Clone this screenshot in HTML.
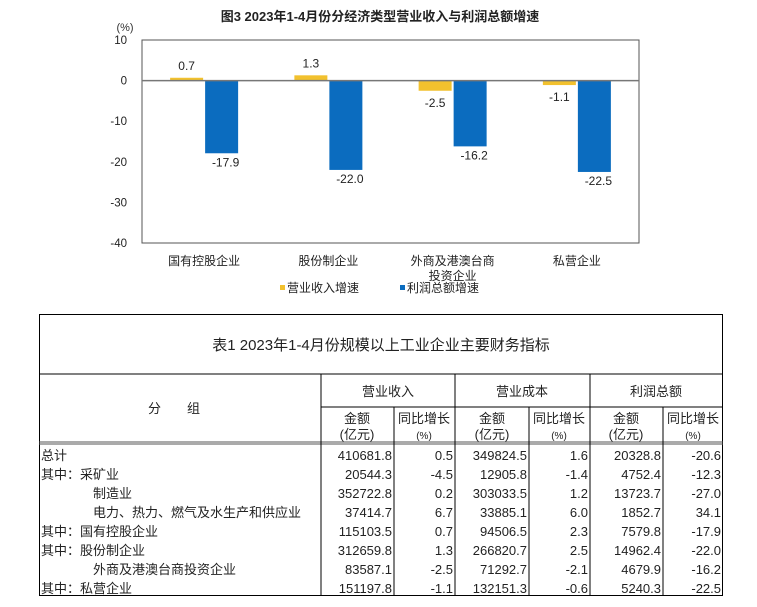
<!DOCTYPE html>
<html><head><meta charset="utf-8">
<style>
body{margin:0;background:#fff;width:757px;height:607px;overflow:hidden;font-family:"Liberation Sans","Noto Sans CJK SC",sans-serif;}
svg{position:absolute;left:0;top:0}
.tbl{position:absolute;left:39px;top:314px;width:684px;height:282px;border:1px solid #000;box-sizing:border-box}
</style></head><body>
<svg width="757" height="300">
<text x="380" y="21" text-anchor="middle" font-size="13" font-weight="bold" fill="#222">图3  2023年1-4月份分经济类型营业收入与利润总额增速</text>
<text x="125" y="31" text-anchor="middle" font-size="11" fill="#333">(%)</text>
<rect x="142" y="40" width="497" height="203" fill="none" stroke="#555" stroke-width="1"/>
<g id="ticks"></g>
<g id="bars"></g>
<g id="cats"></g>
<rect x="280" y="285" width="5" height="5" fill="#F2C12E"/>
<text x="287" y="292" font-size="12" fill="#222">营业收入增速</text>
<rect x="400" y="285" width="5" height="5" fill="#0B6CBF"/>
<text x="407" y="292" font-size="12" fill="#222">利润总额增速</text>
</svg>
<script>
const categories=["国有控股企业","股份制企业","外商及港澳台商投资企业","私营企业"];
const revenue=[0.7,1.3,-2.5,-1.1];
const profit=[-17.9,-22.0,-16.2,-22.5];
const yTicks=[10,0,-10,-20,-30,-40];
const NS="http://www.w3.org/2000/svg";
const L=142,R=639,T=40,B=243,yMax=10,yMin=-40;
const y=v=>T+(yMax-v)/(yMax-yMin)*(B-T);
const cw=(R-L)/categories.length;
const xc=i=>L+cw*(i+0.5);
function mk(tag,attrs,parent,txt){const e=document.createElementNS(NS,tag);for(const k in attrs)e.setAttribute(k,attrs[k]);if(txt!=null)e.textContent=txt;parent.appendChild(e);return e;}
const tg=document.getElementById('ticks');
yTicks.forEach(t=>{const e=mk('text',{x:127,y:y(t)+4,'text-anchor':'end','font-size':11.5,fill:'#222'},tg,String(t));

});
const bg=document.getElementById('bars');
const bw=33;
categories.forEach((c,i)=>{
 const cx=xc(i);
 const r=revenue[i],p=profit[i];
 const a=mk('rect',{x:cx-bw-1,y:Math.min(y(r),y(0)),width:bw,height:Math.max(Math.abs(y(r)-y(0)),1),fill:'#F2C12E'},bg);
 
 
 const b=mk('rect',{x:cx+1,y:Math.min(y(p),y(0)),width:bw,height:Math.abs(y(p)-y(0)),fill:'#0B6CBF'},bg);
 
 
 const ly=r>=0?y(r)-8:y(r)+16;
 const la=mk('text',{x:cx-bw/2-1,y:ly,'text-anchor':'middle','font-size':12,fill:'#222'},bg,r.toFixed(1));
 
 
 const lb=mk('text',{x:cx+bw/2+5,y:y(p)+13,'text-anchor':'middle','font-size':12,fill:'#222'},bg,p.toFixed(1));
 
 
});
const zl=mk('line',{x1:L,x2:R,y1:y(0),y2:y(0),stroke:'#777','stroke-width':1.5},bg);


const cg=document.getElementById('cats');
categories.forEach((c,i)=>{
 const lines=c.length>8?[c.slice(0,7),c.slice(7)]:[c];
 lines.forEach((s,j)=>{const e=mk('text',{x:xc(i),y:265+j*15,'text-anchor':'middle','font-size':12,fill:'#222'},cg,s);
 
 });
});
</script>

<div class="tbl">
<svg width="684" height="282" style="position:absolute;left:-1px;top:-1px">
<text x="342" y="36" text-anchor="middle" font-size="15" fill="#222">表1  2023年1-4月份规模以上工业企业主要财务指标</text>
<line x1="0" x2="684" y1="60" y2="60" stroke="#000"/>
<line x1="0" x2="684" y1="128" y2="128" stroke="#555"/>
<line x1="0" x2="684" y1="130" y2="130" stroke="#555"/>
<line x1="282" x2="684" y1="93" y2="93" stroke="#000"/>
<g stroke="#000"><line x1="282" x2="282" y1="60" y2="282"/><line x1="416" x2="416" y1="60" y2="282"/><line x1="551" x2="551" y1="60" y2="282"/>
<line x1="355" x2="355" y1="93" y2="282"/><line x1="490" x2="490" y1="93" y2="282"/><line x1="624" x2="624" y1="93" y2="282"/></g>
<g font-size="13" fill="#222" text-anchor="middle">
<text x="135" y="99">分　　组</text>
<text x="349" y="82">营业收入</text>
<text x="483" y="82">营业成本</text>
<text x="617" y="82">利润总额</text>
<text x="318" y="109">金额</text><text x="318" y="125">(亿元)</text>
<text x="385" y="109">同比增长</text><text x="385" y="125" font-size="10">(%)</text>
<text x="453" y="109">金额</text><text x="453" y="125">(亿元)</text>
<text x="520" y="109">同比增长</text><text x="520" y="125" font-size="10">(%)</text>
<text x="587" y="109">金额</text><text x="587" y="125">(亿元)</text>
<text x="654" y="109">同比增长</text><text x="654" y="125" font-size="10">(%)</text>
</g>
<g id="rows" font-size="13" fill="#222"></g>
</svg>
</div>
<script>
const rowNames=["总计","其中：采矿业","　　　　制造业","　　　　电力、热力、燃气及水生产和供应业","其中：国有控股企业","其中：股份制企业","　　　　外商及港澳台商投资企业","其中：私营企业"];
const rowVals=[
["410681.8","0.5","349824.5","1.6","20328.8","-20.6"],
["20544.3","-4.5","12905.8","-1.4","4752.4","-12.3"],
["352722.8","0.2","303033.5","1.2","13723.7","-27.0"],
["37414.7","6.7","33885.1","6.0","1852.7","34.1"],
["115103.5","0.7","94506.5","2.3","7579.8","-17.9"],
["312659.8","1.3","266820.7","2.5","14962.4","-22.0"],
["83587.1","-2.5","71292.7","-2.1","4679.9","-16.2"],
["151197.8","-1.1","132151.3","-0.6","5240.3","-22.5"]];
const rg=document.getElementById('rows');
const colRight=[281,354,415,489,550,623,683];
rowNames.forEach((n,i)=>{
 const yy=146+i*19;
 const t=mk('text',{x:2,y:yy},rg,n);
 
 
 rowVals[i].forEach((v,j)=>{const e=mk('text',{x:colRight[j+1]-1,y:yy,'text-anchor':'end'},rg,v);
 
 });
});
</script>
</body></html>
